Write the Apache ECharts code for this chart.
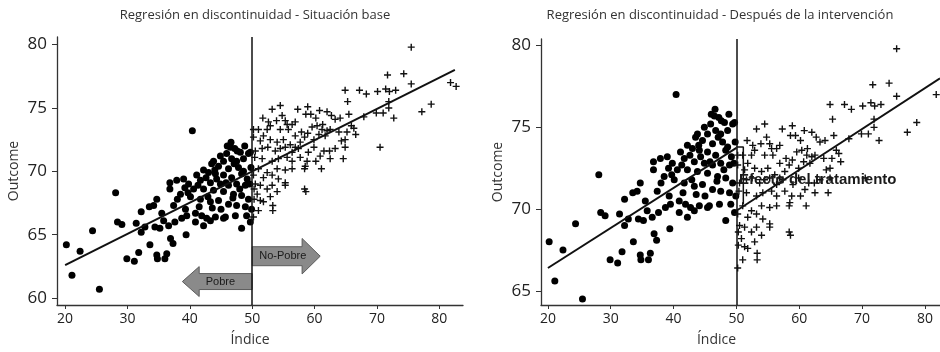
<!DOCTYPE html>
<html>
<head>
<meta charset="utf-8">
<script src="https://cdn.jsdelivr.net/npm/echarts@6/dist/echarts.min.js"></script>
<style>
html,body{margin:0;padding:0;background:#fff;}
#chart{width:940px;height:352px;}
</style>
</head>
<body>
<div id="chart"></div>
<script>
// marcas de los ejes
var xTicks = [20, 30, 40, 50, 60, 70, 80];
var yTicksBase = [60, 65, 70, 75, 80];
var yTicksPost = [65, 70, 75, 80];
var corte = 50;

// situación base: pobres (puntos)
var basePobre = [
  [20.2,64.2],[21.1,61.8],[22.4,63.7],[24.4,65.3],[25.5,60.7],[28.1,68.3],[28.4,66.0],[29.1,65.8],
  [29.9,63.1],[31.1,62.9],[31.8,63.6],[31.4,65.9],[32.2,66.8],[32.2,65.2],[32.8,65.6],[33.6,64.2],
  [33.5,67.2],[34.2,67.3],[34.7,67.8],[34.7,63.4],[34.8,63.1],[34.4,65.6],[35.2,65.5],[35.5,66.7],
  [35.8,66.1],[36.0,63.1],[36.3,63.5],[36.6,65.7],[36.9,64.7],[37.3,64.3],[36.8,69.1],[36.8,68.6],
  [39.4,65.0],[48.3,65.5],[40.4,73.2],[46.6,72.3],[46.5,71.9],[47.2,71.8],[48.1,71.5],[45.9,71.4],
  [44.9,71.2],[43.8,70.8],[45.4,70.8],[46.7,71.0],[47.5,70.8],[48.6,71.0],[49.4,71.4],[49.7,71.5],
  [43.5,70.6],[44.6,70.4],[46.2,70.2],[47.8,70.3],[48.3,69.8],[42.2,70.1],[43.0,69.9],[44.1,69.8],
  [45.4,69.7],[46.7,69.5],[49.2,69.4],[41.1,69.7],[41.7,69.3],[43.3,69.1],[44.9,69.0],[46.2,68.9],
  [47.5,69.0],[48.9,68.9],[37.9,69.3],[39.0,69.4],[39.8,69.0],[40.6,68.6],[42.2,68.6],[43.8,68.5],
  [45.4,68.4],[47.0,68.2],[48.3,68.1],[49.4,67.8],[38.5,68.2],[40.1,68.0],[41.7,67.8],[43.3,67.6],
  [44.6,67.7],[46.2,67.4],[47.5,67.3],[48.9,67.2],[37.4,67.3],[39.3,67.0],[40.9,66.7],[41.9,66.5],
  [42.7,66.3],[44.1,66.4],[45.4,66.3],[40.9,66.0],[42.2,65.7],[49.1,66.5],[49.7,66.0],[38.7,66.3],
  [39.5,66.5],[37.6,66.0],[43.3,66.1],[45.7,66.4],[47.3,66.5],[49.8,70.3],[49.6,69.0],[49.9,67.0],
  [38.0,67.8],[39.7,68.3],[41.3,68.9],[42.9,68.0],[44.3,69.4],[45.8,69.1],[47.1,70.6],[48.6,70.0],
  [46.9,67.9],[43.6,67.1],[41.5,67.2],[45.0,67.0],[48.0,68.6],[42.6,69.5],[44.0,70.1],[39.2,68.7],
  [46.0,72.0],[48.8,72.0],[47.6,71.6]
];

// no pobres (cruces), iguales en ambos paneles
var baseNoPobre = [
  [75.5,79.8],[71.7,77.6],[74.3,77.7],[75.5,76.9],[81.8,77.0],[82.7,76.7],[64.9,76.4],[67.2,76.4],
  [68.3,76.1],[70.1,76.3],[71.4,76.5],[72.0,76.3],[73.0,76.4],[65.3,75.5],[71.9,75.5],[71.9,75.0],
  [69.9,74.6],[71.0,74.6],[72.7,74.2],[67.9,74.3],[77.2,74.7],[78.7,75.3],[70.5,71.9],
  [53.2,74.9],[54.5,75.2],[51.7,74.2],[57.3,74.9],[58.9,75.1],[58.6,74.5],[59.4,74.5],[60.8,74.8],
  [62.0,74.7],[62.7,74.4],[60.2,74.2],[61.3,73.7],[63.3,74.1],[64.1,74.2],[65.5,74.5],[65.9,73.6],
  [66.3,73.4],[66.6,72.9],[65.2,73.1],[64.9,72.5],[64.3,72.4],[64.9,71.9],[64.6,71.0],[63.3,71.8],
  [62.4,71.6],[61.5,71.6],[61.1,70.2],[62.5,71.0],[60.9,71.2],[60.2,70.8],[61.7,72.8],[62.0,73.2],
  [61.2,73.3],[60.7,72.9],[59.9,72.5],[59.6,73.5],[58.9,73.0],[58.4,72.7],[57.9,73.1],[57.7,72.3],
  [56.9,73.9],[56.4,73.7],[55.6,73.7],[55.8,73.3],[54.5,73.3],[53.9,74.0],[52.9,73.6],[52.4,73.3],
  [51.8,72.8],[51.0,73.3],[50.2,73.3],[50.2,72.7],[51.3,72.4],[52.9,72.5],[54.0,72.3],[55.0,72.5],
  [56.1,72.1],[56.9,71.9],[56.4,71.5],[55.3,71.9],[54.5,71.8],[53.7,71.6],[52.5,71.9],[51.6,71.8],
  [50.5,71.6],[50.4,71.1],[51.6,71.0],[53.2,70.8],[54.2,71.0],[55.6,71.1],[56.4,70.8],[57.7,71.1],
  [58.8,70.8],[58.5,70.4],[58.4,70.2],[56.4,70.2],[55.3,70.1],[54.0,70.2],[52.4,69.9],[51.0,70.2],
  [50.2,69.7],[51.8,69.5],[53.2,69.7],[54.2,69.4],[55.3,69.1],[55.3,68.9],[53.2,68.9],[51.3,68.9],
  [50.5,69.0],[50.3,68.6],[50.8,68.2],[52.4,68.6],[54.0,68.4],[58.4,68.6],[58.6,68.4],[51.3,67.7],
  [51.8,67.6],[52.9,68.0],[53.3,67.3],[53.3,66.9],[50.3,67.8],[50.2,66.4],[51.0,66.9],[62.5,73.3],
  [63.9,73.1],[60.4,73.6],[54.8,74.4],[55.3,74.0],[52.6,73.9],[56.9,72.8],[59.9,71.9],[59.0,71.5],
  [57.4,71.8]
];

// después de la intervención: pobres (puntos)
var postPobre = [
  [20.2,68.0],[21.1,65.6],[22.4,67.5],[24.4,69.1],[25.5,64.5],[28.1,72.1],[28.4,69.8],[29.1,69.6],
  [29.9,66.9],[31.1,66.7],[31.8,67.4],[31.4,69.7],[32.2,70.6],[32.2,69.0],[32.8,69.4],[33.6,68.0],
  [33.5,71.0],[34.2,71.1],[34.7,71.6],[34.7,67.2],[34.8,66.9],[34.4,69.4],[35.2,69.3],[35.5,70.5],
  [35.8,69.9],[36.0,66.9],[36.3,67.3],[36.6,69.5],[36.9,68.5],[37.3,68.1],[36.8,72.9],[36.8,72.4],
  [39.4,68.8],[48.3,69.3],[40.4,77.0],[46.6,76.1],[46.5,75.7],[47.2,75.6],[48.1,75.3],[45.9,75.2],
  [44.9,75.0],[43.8,74.6],[45.4,74.6],[46.7,74.8],[47.5,74.6],[48.6,74.8],[49.4,75.2],[49.7,75.3],
  [43.5,74.4],[44.6,74.2],[46.2,74.0],[47.8,74.1],[48.3,73.6],[42.2,73.9],[43.0,73.7],[44.1,73.6],
  [45.4,73.5],[46.7,73.3],[49.2,73.2],[41.1,73.5],[41.7,73.1],[43.3,72.9],[44.9,72.8],[46.2,72.7],
  [47.5,72.8],[48.9,72.7],[37.9,73.1],[39.0,73.2],[39.8,72.8],[40.6,72.4],[42.2,72.4],[43.8,72.3],
  [45.4,72.2],[47.0,72.0],[48.3,71.9],[49.4,71.6],[38.5,72.0],[40.1,71.8],[41.7,71.6],[43.3,71.4],
  [44.6,71.5],[46.2,71.2],[47.5,71.1],[48.9,71.0],[37.4,71.1],[39.3,70.8],[40.9,70.5],[41.9,70.3],
  [42.7,70.1],[44.1,70.2],[45.4,70.1],[40.9,69.8],[42.2,69.5],[49.1,70.3],[49.7,69.8],[38.7,70.1],
  [39.5,70.3],[37.6,69.8],[43.3,69.9],[45.7,70.2],[47.3,70.3],[49.8,74.1],[49.6,72.8],[49.9,70.8],
  [38.0,71.6],[39.7,72.1],[41.3,72.7],[42.9,71.8],[44.3,73.2],[45.8,72.9],[47.1,74.4],[48.6,73.8],
  [46.9,71.7],[43.6,70.9],[41.5,71.0],[45.0,70.8],[48.0,72.4],[42.6,73.3],[44.0,73.9],[39.2,72.5],
  [46.0,75.8],[48.8,75.8],[47.6,75.4]
];
var postNoPobre = baseNoPobre;

// rectas de regresión
var rectaBase = [[20, 62.6], [82.5, 78.0]];
var rectaPostPobre = [[20, 66.4], [50, 73.75]];
var rectaPostNoPobre = [[50, 69.9], [82.4, 78.0]];
var llave = [[50, 73.8], [51.1, 73.8], [51.1, 70.3]];

var flechas = [
  {texto: 'Pobre', x0: 50, xBase: 41.5, xPunta: 38.8, y: 61.3, cuerpo: 0.63, cabeza: 1.18, textoX: 44.9},
  {texto: 'No-Pobre', x0: 50, xBase: 58.0, xPunta: 60.9, y: 63.3, cuerpo: 0.75, cabeza: 1.4, textoX: 54.9}
];

var cruz = 'path://M4,0H6V4H10V6H6V10H4V6H0V4H4Z';
var fuente = '"Open Sans", "Noto Sans", sans-serif';

function ejeX(gi, min, max, pad) {
  return {
    gridIndex: gi, type: 'value', min: min, max: max,
    name: 'Índice', nameLocation: 'middle', nameGap: 28,
    nameTextStyle: {fontFamily: fuente, fontSize: 14, color: '#333', padding: [0, pad, 0, 0]},
    axisLine: {show: true, onZero: false, lineStyle: {color: '#333', width: 1.3}},
    axisTick: {show: true, length: 4, customValues: xTicks, lineStyle: {color: '#333'}},
    axisLabel: {customValues: xTicks, margin: 7, fontFamily: fuente, fontSize: 14, color: '#222'},
    splitLine: {show: false}
  };
}
function ejeY(gi, min, max, ticks) {
  return {
    gridIndex: gi, type: 'value', min: min, max: max,
    name: 'Outcome', nameLocation: 'middle', nameGap: 36,
    nameTextStyle: {fontFamily: fuente, fontSize: 14, color: '#333'},
    axisLine: {show: true, onZero: false, lineStyle: {color: '#333', width: 1.3}},
    axisTick: {show: true, length: 5, customValues: ticks, lineStyle: {color: '#333'}},
    axisLabel: {customValues: ticks, margin: 10, fontFamily: fuente, fontSize: 17, color: '#222'},
    splitLine: {show: false}
  };
}
function recta(gi, data) {
  return {
    type: 'line', xAxisIndex: gi, yAxisIndex: gi, data: data, symbol: 'none',
    lineStyle: {color: '#111', width: 2}, z: 5, silent: true
  };
}
function lineaCorte() {
  return {
    symbol: 'none', silent: true, label: {show: false},
    lineStyle: {color: '#111', width: 1.5, type: 'solid', opacity: 1},
    data: [{xAxis: corte}]
  };
}
function dibujarFlecha(params, api) {
  var f = flechas[params.dataIndex];
  var p = function (x, y) { return api.coord([x, y]); };
  var pts = [
    p(f.x0, f.y + f.cuerpo), p(f.xBase, f.y + f.cuerpo), p(f.xBase, f.y + f.cabeza),
    p(f.xPunta, f.y), p(f.xBase, f.y - f.cabeza), p(f.xBase, f.y - f.cuerpo), p(f.x0, f.y - f.cuerpo)
  ];
  var c = p(f.textoX, f.y);
  return {
    type: 'group',
    children: [
      {type: 'polygon', shape: {points: pts}, style: {fill: '#8a8a8a', stroke: '#5c5c5c', lineWidth: 1}},
      {type: 'text', x: c[0], y: c[1], style: {text: f.texto, fill: '#1a1a1a',
        font: '11px "Liberation Sans", Arial, sans-serif', align: 'center', verticalAlign: 'middle'}}
    ]
  };
}

var chart = echarts.init(document.getElementById('chart'), null, {renderer: 'canvas'});
chart.setOption({
  animation: false,
  backgroundColor: '#fff',
  title: [
    {text: 'Regresión en discontinuidad - Situación base', left: 250, top: 4, textAlign: 'center',
      textStyle: {fontFamily: fuente, fontSize: 13, fontWeight: 'normal', color: '#333'}},
    {text: 'Regresión en discontinuidad - Después de la intervención', left: 715, top: 4, textAlign: 'center',
      textStyle: {fontFamily: fuente, fontSize: 13, fontWeight: 'normal', color: '#333'}}
  ],
  grid: [
    {left: 57, top: 37, width: 406, bottom: 46},
    {left: 541, top: 39, right: 0, bottom: 47}
  ],
  xAxis: [ejeX(0, 18.7, 83.8, 20), ejeX(1, 18.9, 82.4, 48)],
  yAxis: [ejeY(0, 59.45, 80.6, yTicksBase), ejeY(1, 64.14, 80.4, yTicksPost)],
  series: [
    {type: 'scatter', xAxisIndex: 0, yAxisIndex: 0, data: basePobre, symbol: 'circle', symbolSize: 7,
      itemStyle: {color: '#000', opacity: 1}, markLine: lineaCorte()},
    {type: 'scatter', xAxisIndex: 0, yAxisIndex: 0, data: baseNoPobre, symbol: cruz, symbolSize: 7,
      itemStyle: {color: '#111', opacity: 1}},
    recta(0, rectaBase),
    {type: 'custom', xAxisIndex: 0, yAxisIndex: 0, renderItem: dibujarFlecha, clip: false, z: 4,
      data: flechas.map(function (f) { return [f.x0, f.y]; })},
    {type: 'scatter', xAxisIndex: 1, yAxisIndex: 1, data: postPobre, symbol: 'circle', symbolSize: 7,
      itemStyle: {color: '#000', opacity: 1}, markLine: lineaCorte()},
    {type: 'scatter', xAxisIndex: 1, yAxisIndex: 1, data: postNoPobre, symbol: cruz, symbolSize: 7,
      itemStyle: {color: '#111', opacity: 1}},
    recta(1, rectaPostPobre),
    recta(1, rectaPostNoPobre),
    {type: 'line', xAxisIndex: 1, yAxisIndex: 1, data: llave, symbol: 'none', silent: true, z: 5,
      lineStyle: {color: '#111', width: 1.5}},
    {type: 'scatter', xAxisIndex: 1, yAxisIndex: 1, data: [[50.4, 71.8]], symbolSize: 0, z: 10, zlevel: 1,
      silent: true, itemStyle: {opacity: 1},
      label: {show: true, position: 'right', distance: 0, formatter: 'Efecto del tratamiento',
        fontFamily: '"Liberation Sans", Arial, sans-serif', fontWeight: 'bold', fontSize: 15, color: '#1a1a1a'},
      labelLayout: {hideOverlap: false}}
  ]
});
</script>
</body>
</html>
